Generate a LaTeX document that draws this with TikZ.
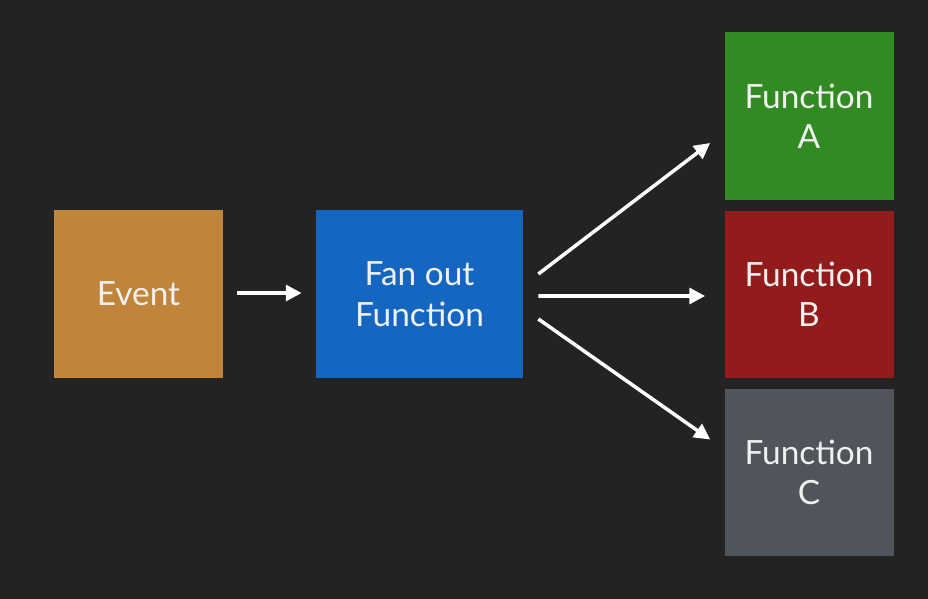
\documentclass[tikz,border=0pt]{standalone}
\usepackage{fontspec}
\setmainfont{Lato}
\usepackage{tikz}
\usetikzlibrary{arrows.meta, positioning, calc}
\definecolor{slidebg}{RGB}{35, 35, 35}
\definecolor{eventorange}{RGB}{192, 132, 58}
\definecolor{fanblue}{RGB}{21, 102, 193}
\definecolor{funcgreen}{RGB}{50, 138, 34}
\definecolor{funcred}{RGB}{146, 27, 27}
\definecolor{funcgray}{RGB}{80, 85, 91}
\definecolor{textwhite}{RGB}{240, 240, 240}
\tikzset{
    box/.style={rectangle, minimum width=3.38cm, minimum height=3.36cm, text=textwhite, align=center, font=\fontsize{19}{23}\selectfont, anchor=center},
    flow/.style={draw=white, line width=2pt, -{Triangle[length=9pt, width=9pt]}}
}

\begin{document}
\begin{tikzpicture}
    % Background
    \fill[slidebg] (0,0) rectangle (18.56,-11.98);
    \useasboundingbox (0,0) rectangle (18.56,-11.98);

    % Boxes
    \node[box, fill=eventorange] (event) at (2.77,-5.88) {Event};
    \node[box, fill=fanblue, minimum width=4.14cm] (fanout) at (8.39,-5.88) {Fan out\\Function};
    \node[box, fill=funcgreen] (funcA) at (16.18,-2.32) {Function\\A};
    \node[box, fill=funcred, minimum height=3.34cm] (funcB) at (16.18,-5.89) {Function\\B};
    \node[box, fill=funcgray, minimum height=3.34cm] (funcC) at (16.18,-9.45) {Function\\C};

    % Arrows
    \draw[flow] ($(event.east)+(0.28,0.02)$) -- ($(fanout.west)+(-0.28,0.02)$);
    \draw[flow] ($(fanout.east)+(0.3,0.4)$) -- ($(funcA.west)+(-0.28,-0.54)$);
    \draw[flow] ($(fanout.east)+(0.3,-0.04)$) -- ($(funcB.west)+(-0.38,-0.03)$);
    \draw[flow] ($(fanout.east)+(0.3,-0.5)$) -- ($(funcC.west)+(-0.28,0.66)$);
\end{tikzpicture}
\end{document}
